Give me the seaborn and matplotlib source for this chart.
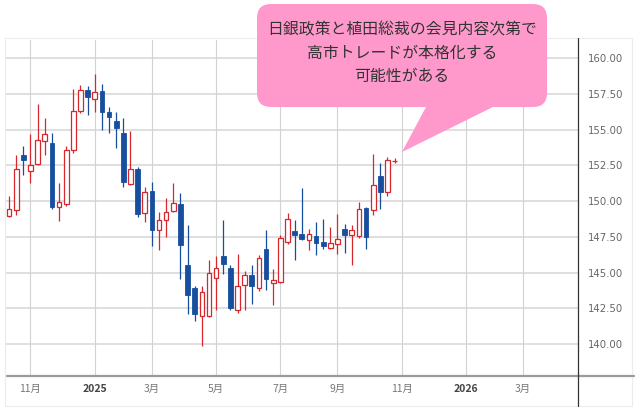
import pandas as pd
import numpy as np
import seaborn as sns
import matplotlib.pyplot as plt
import matplotlib.dates as mdates
from matplotlib.patches import FancyBboxPatch, Polygon, Rectangle
from matplotlib.lines import Line2D

# ----------------- Data (weekly USD/JPY candles) -----------------
first_week = "2024-10-14"
opens = [148.95, 149.42, 153.25, 152.10, 152.57, 154.18, 154.07, 149.58, 149.77, 153.60,
         156.31, 157.76, 157.13, 157.69, 156.24, 155.60, 154.77, 151.17, 152.27, 149.16,
         150.68, 147.97, 148.71, 149.32, 149.77, 145.51, 143.95, 141.96, 141.96, 144.65,
         146.14, 145.30, 142.41, 144.11, 144.81, 143.95, 146.68, 144.28, 144.35, 147.15,
         147.90, 147.68, 147.27, 147.57, 147.15, 146.75, 147.03, 148.08, 147.62, 147.55,
         149.53, 149.37, 151.75, 150.65, 152.78]
highs = [150.33, 153.20, 153.86, 154.72, 156.78, 155.82, 154.77, 151.26, 153.83, 157.87,
         158.10, 158.04, 158.88, 158.22, 156.59, 156.24, 155.84, 154.88, 152.40, 150.98,
         151.33, 149.25, 150.19, 151.24, 150.54, 148.32, 144.10, 144.04, 145.91, 146.17,
         148.67, 145.53, 146.29, 145.12, 145.51, 146.21, 148.01, 145.23, 147.62, 149.18,
         148.67, 150.95, 148.08, 148.55, 148.79, 148.20, 149.14, 148.39, 148.32, 149.95,
         149.60, 153.27, 152.64, 153.10, 153.04]
lows = [148.88, 149.07, 151.80, 151.26, 152.50, 153.25, 149.44, 148.64, 149.63, 153.40,
        156.20, 156.00, 156.24, 155.00, 154.77, 153.74, 150.98, 151.10, 148.93, 148.53,
        146.90, 146.57, 147.50, 149.25, 144.58, 142.13, 141.61, 139.90, 141.90, 142.36,
        144.93, 142.40, 142.17, 142.41, 142.78, 143.71, 143.81, 142.71, 144.30, 146.99,
        145.86, 147.30, 146.61, 146.21, 146.64, 146.68, 146.33, 146.38, 145.56, 147.45,
        146.68, 149.02, 149.49, 150.37, 152.64]
closes = [149.46, 152.22, 152.85, 152.55, 154.25, 154.67, 149.58, 149.93, 153.60, 156.30,
          157.76, 157.29, 157.64, 156.24, 155.89, 155.14, 151.33, 152.27, 149.11, 150.63,
          147.99, 148.67, 149.25, 149.84, 146.92, 143.41, 142.13, 143.64, 144.98, 145.35,
          145.63, 142.55, 144.04, 144.81, 144.04, 146.05, 144.58, 144.51, 147.43, 148.79,
          147.62, 147.35, 147.73, 147.10, 146.87, 147.08, 147.34, 147.62, 147.97, 149.49,
          147.50, 151.12, 150.65, 152.87, 152.82]

tick_dates = ["2024-11-04", "2025-01-06", "2025-03-03", "2025-05-05", "2025-07-07",
              "2025-09-01", "2025-11-03", "2026-01-05", "2026-03-02"]
tick_labels = ["11月", "2025", "3月", "5月", "7月", "9月", "11月", "2026", "3月"]
y_ticks = [140.0, 142.5, 145.0, 147.5, 150.0, 152.5, 155.0, 157.5, 160.0]

callout_lines = ["日銀政策と植田総裁の会見内容次第で", "高市トレードが本格化する", "可能性がある"]

df = pd.DataFrame({"open": opens, "high": highs, "low": lows, "close": closes})
df["date"] = pd.date_range(first_week, periods=len(df), freq="W-MON")
df["x"] = mdates.date2num(df["date"])
df["up"] = df["close"] >= df["open"]

RED = "#d7262c"
BLUE = "#174f9e"

# ----------------- Figure -----------------
sns.set_style("white")
plt.rcParams["font.family"] = ["Noto Sans CJK JP", "DejaVu Sans"]

W, H = 636, 409
fig = plt.figure(figsize=(W / 100, H / 100), dpi=100)
ax = fig.add_axes([5 / W, 1 - 376 / H, 573 / W, 336 / H])

# grid
for v in y_ticks:
    ax.axhline(v, color="#dcdcdc", lw=1.3, zorder=0)
tick_x = mdates.date2num(pd.to_datetime(tick_dates))
for t in tick_x:
    ax.axvline(t, color="#d2d2d2", lw=0.8, zorder=0)

# wicks
ax.vlines(df["x"], df["low"], df["high"],
          colors=np.where(df["up"], RED, BLUE), lw=0.9, zorder=2)

# bodies
up = df[df["up"]]
dn = df[~df["up"]]
bw = 4.6
ax.bar(up["x"], (up["close"] - up["open"]).clip(lower=0.02), bottom=up["open"], width=bw,
       color="white", edgecolor=RED, linewidth=0.9, zorder=3)
ax.bar(dn["x"], dn["open"] - dn["close"], bottom=dn["close"], width=bw,
       color=BLUE, edgecolor=BLUE, linewidth=0.6, zorder=3)

x0 = df["x"].iloc[0]
ax.set_xlim(x0 - 4.0, x0 + 557.8)
ax.set_ylim(137.77, 161.28)

ax.set_xticks(tick_x)
ax.set_xticklabels(tick_labels)
for lab, txt in zip(ax.get_xticklabels(), tick_labels):
    lab.set_color("#444" if txt.startswith("20") else "#777")
    lab.set_fontweight("bold" if txt.startswith("20") else "normal")
    lab.set_fontsize(7.5)
ax.tick_params(axis="x", length=0, pad=6)

ax.yaxis.tick_right()
ax.set_yticks(y_ticks)
ax.set_yticklabels([f"{v:.2f}" for v in y_ticks], family="DejaVu Sans",
                   fontsize=7.3, color="#666")
ax.tick_params(axis="y", length=0, pad=7)

for s in ax.spines.values():
    s.set_visible(False)

# ----------------- Frame & callout overlay (pixel coords) -----------------
ov = fig.add_axes([0, 0, 1, 1], zorder=5)
ov.set_xlim(0, W)
ov.set_ylim(H, 0)
ov.axis("off")
ov.patch.set_alpha(0)

ov.add_patch(Rectangle((5, 38), 627, 368, fill=False, edgecolor="#ececec", lw=0.8))
ov.add_line(Line2D([7, 634], [376, 376], color="#9a9a9a", lw=1.6))
ov.add_line(Line2D([578, 578], [38, 406], color="#333333", lw=0.9))

pink = "#ff99cc"
ov.add_patch(FancyBboxPatch((257, 4), 290, 103,
                            boxstyle="round,pad=0,rounding_size=14",
                            facecolor=pink, edgecolor="none"))
ov.add_patch(Polygon([(427, 105), (497, 105), (402, 152)],
                     closed=True, facecolor=pink, edgecolor="none"))
for yy, line in zip([30, 53.5, 77], callout_lines):
    ov.text(402, yy, line, ha="center", va="center", fontsize=11.4, color="#333333",
            family=["Noto Sans CJK JP", "DejaVu Sans"])

plt.savefig("out.png", dpi=100)
